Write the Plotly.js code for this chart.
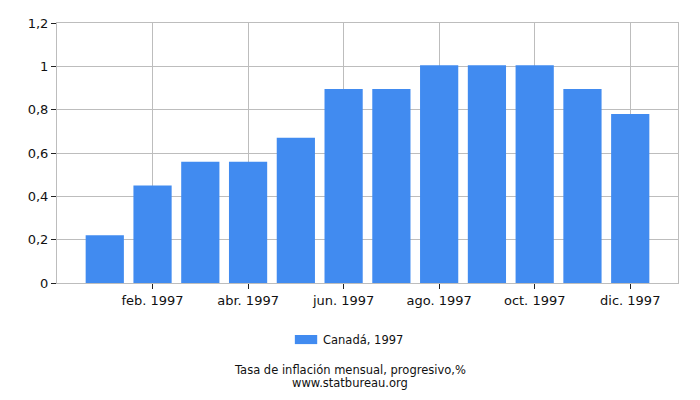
<!DOCTYPE html>
<html>
<head>
<meta charset="utf-8">
<script src="https://cdn.plot.ly/plotly-3.0.1.min.js"></script>
<style>
  html, body { margin: 0; padding: 0; background: #fff; }
  #chart { width: 700px; height: 400px; }
</style>
</head>
<body>
<div id="chart"></div>
<script>
const months = ['ene. 1997', 'feb. 1997', 'mar. 1997', 'abr. 1997', 'may. 1997', 'jun. 1997',
  'jul. 1997', 'ago. 1997', 'sep. 1997', 'oct. 1997', 'nov. 1997', 'dic. 1997'];
const inflation = [0.22, 0.45, 0.56, 0.56, 0.67, 0.895, 0.895, 1.005, 1.005, 1.005, 0.895, 0.78];
const shownTicks = ['feb. 1997', 'abr. 1997', 'jun. 1997', 'ago. 1997', 'oct. 1997', 'dic. 1997'];
const seriesName = 'Canadá, 1997';
const chartTitle = 'Tasa de inflación mensual, progresivo,%';
const sourceText = 'www.statbureau.org';

const BAR_COLOR = '#418bf0';
const FONT = { family: 'DejaVu Sans, sans-serif', size: 13, color: '#111' };
const SMALL = { family: FONT.family, size: 11.5, color: '#111' };

// legend drawn by hand so the swatch is a wide rectangle like the original
function legendItem(label) {
  return {
    shapes: [{
      type: 'rect', xref: 'paper', yref: 'paper',
      x0: 0.383, x1: 0.419, y0: -0.2, y1: -0.235,
      line: { width: 0 }, fillcolor: BAR_COLOR,
    }],
    annotations: [{
      text: label, xref: 'paper', yref: 'paper',
      x: 0.425, y: -0.218, xanchor: 'left', yanchor: 'middle',
      showarrow: false, font: SMALL,
    }],
  };
}

const legend = legendItem(seriesName);

Plotly.newPlot('chart', [{
  type: 'bar',
  x: months,
  y: inflation,
  name: seriesName,
  marker: { color: BAR_COLOR },
  width: 0.8,
  hoverinfo: 'x+y',
}], {
  width: 700,
  height: 400,
  font: FONT,
  separators: ',.',
  margin: { t: 23, r: 22, b: 117, l: 57 },
  showlegend: false,
  xaxis: {
    type: 'category',
    categoryorder: 'array',
    categoryarray: months,
    range: [-1, 12],
    tickmode: 'array',
    tickvals: shownTicks,
    ticktext: shownTicks,
    ticks: 'outside',
    ticklen: 5,
    tickcolor: '#222',
    showgrid: true,
    gridcolor: '#bdbdbd',
    showline: true,
    linecolor: '#bdbdbd',
    mirror: true,
    zeroline: false,
    fixedrange: true,
  },
  yaxis: {
    range: [0, 1.2],
    dtick: 0.2,
    ticks: 'outside',
    ticklen: 5,
    tickcolor: '#222',
    showgrid: true,
    gridcolor: '#bdbdbd',
    showline: true,
    linecolor: '#bdbdbd',
    mirror: true,
    zeroline: false,
    fixedrange: true,
  },
  shapes: legend.shapes,
  annotations: legend.annotations.concat([
    {
      text: chartTitle,
      xref: 'paper', yref: 'paper',
      x: 0.472, y: -0.334,
      xanchor: 'center', yanchor: 'middle',
      showarrow: false, font: SMALL,
    },
    {
      text: sourceText,
      xref: 'paper', yref: 'paper',
      x: 0.472, y: -0.384,
      xanchor: 'center', yanchor: 'middle',
      showarrow: false, font: SMALL,
    },
  ]),
  paper_bgcolor: '#fff',
  plot_bgcolor: '#fff',
}, { displayModeBar: false, staticPlot: true });
</script>
</body>
</html>
